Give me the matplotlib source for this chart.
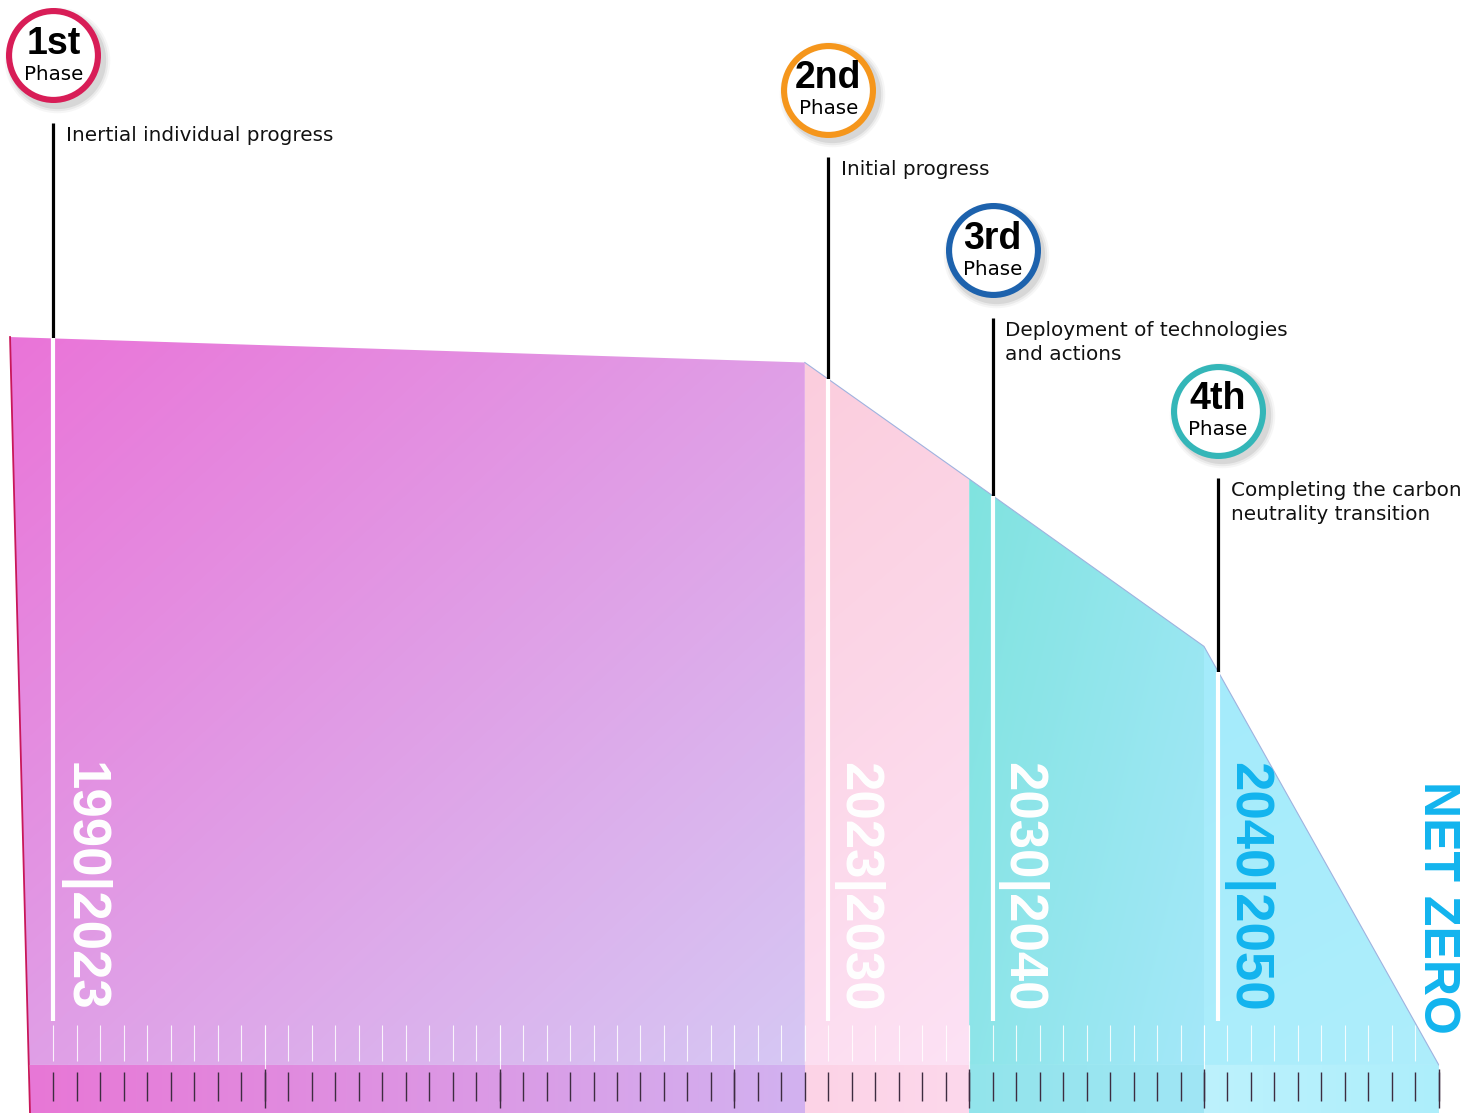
import numpy as np
import matplotlib.pyplot as plt
from matplotlib.patches import Polygon
from matplotlib.colors import to_rgb
from matplotlib.transforms import offset_copy

# emissions path (index, 1990 = 100) at the phase boundaries
years = [1990, 2023, 2030, 2040, 2050]
emissions = [100, 96.5, 80.5, 57.5, 0]

periods = ["1990|2023", "2023|2030", "2030|2040", "2040|2050"]
phase_ordinals = ["1st", "2nd", "3rd", "4th"]
phase_texts = ["Inertial individual progress",
               "Initial progress",
               "Deployment of technologies\nand actions",
               "Completing the carbon\nneutrality transition"]
phase_start = [1991, 2024, 2031, 2040.6]
end_label = "NET ZERO"

# styling / layout
seg_c0 = ["#ea74d8", "#fbcddd", "#80e3df", "#a4ebfb"]
seg_c1 = ["#d6c8f4", "#fde2f5", "#a4e8f9", "#aeeefc"]
band_c0 = ["#e877d6", "#fcd3e6", "#92e4eb", "#bdf2fd"]
band_c1 = ["#d2b2f0", "#fdd8ec", "#a0e6f5", "#adeefb"]
ring_colors = ["#d81d57", "#f5961c", "#1d62ad", "#34b6b8"]
period_colors = ["white", "white", "white", "#12b4ee"]
callout_top = [129.4, 124.7, 102.6, 80.6]
lean = 0.85
ymin, ymax = -6.6, 146.3

fig = plt.figure(figsize=(14.62, 11.13), dpi=100)
ax = fig.add_axes([0, 0, 1, 1])
ax.axis("off")


def gradient_fill(verts, c0, c1, wx, wy, z=1):
    poly = Polygon(verts, closed=True, fc="none", ec="none")
    ax.add_patch(poly)
    xs = [v[0] for v in verts]
    ys = [v[1] for v in verts]
    u = np.linspace(0, 1, 256)
    U, V = np.meshgrid(u, u)
    t = (wx * U + wy * (1 - V)) / (wx + wy)
    a = np.array(to_rgb(c0))
    b = np.array(to_rgb(c1))
    img = a[None, None, :] * (1 - t[..., None]) + b[None, None, :] * t[..., None]
    im = ax.imshow(img, extent=(min(xs), max(xs), min(ys), max(ys)),
                   origin="lower", aspect="auto", zorder=z, interpolation="bilinear")
    im.set_clip_path(poly)


# main area, one gradient segment per phase
weights = [(1, 1), (0.2, 1), (1, 0.6), (0.3, 1)]
for i in range(4):
    x0, x1 = years[i], years[i + 1]
    e0, e1 = emissions[i], emissions[i + 1]
    if i == 0:
        left_top = x0 - lean
        left_bot = x0 - lean * (0 - ymin) / (e0 - ymin)
        verts = [(left_bot, 0), (left_top, e0), (x1, e1), (x1, 0)]
    else:
        verts = [(x0, 0), (x0, e0), (x1, e1), (x1, 0)]
    gradient_fill(verts, seg_c0[i], seg_c1[i], *weights[i])
    # bottom band
    gradient_fill([(x0, ymin), (x0, 0), (x1, 0), (x1, ymin)],
                  band_c0[i], band_c1[i], 1, 0.0001, z=2)

ax.plot(years[1:], emissions[1:], color="#9fb2df", lw=0.8, zorder=2)
ax.plot([years[0] - lean, years[0]], [emissions[0], ymin], color="#c8175a", lw=1.3, zorder=4)

# year ticks
tick_years = np.arange(years[0] + 1, years[-1] + 1)
decades = tick_years[tick_years % 10 == 0]
ax.vlines(tick_years, 0.5, 5.5, color="white", lw=0.8, alpha=0.85, zorder=3)
ax.vlines(decades, -0.7, 5.5, color="white", lw=0.8, alpha=0.85, zorder=3)
ax.vlines(tick_years, -4.9, -1.0, color="#3d2c40", lw=1.0, zorder=3)
ax.vlines(decades, -5.9, -0.5, color="#3d2c40", lw=1.0, zorder=3)

# phase callouts
for i in range(4):
    x = phase_start[i]
    level = np.interp(x, years, emissions)
    top = callout_top[i]
    ax.plot([x, x], [level, top], color="black", lw=2.3, zorder=5, solid_capstyle="butt")
    ax.plot([x, x], [level, 6.0], color="white", lw=3.0, zorder=5, solid_capstyle="butt")

    ax.annotate(phase_texts[i], (x, top), xytext=(9, -2.0), textcoords="offset points",
                ha="left", va="top", fontsize=14.4, color="#111111",
                family="DejaVu Sans", linespacing=1.36, zorder=6)

    cy = top + 9.3
    for k, (grow, alpha) in enumerate([(8, 0.05), (5, 0.08), (2, 0.12)]):
        tr = offset_copy(ax.transData, fig=fig, x=2.5, y=-3.5, units="points")
        ax.plot(x, cy, "o", ms=68 + grow, color="#555555", alpha=alpha, mew=0,
                transform=tr, zorder=6)
    ax.plot(x, cy, "o", ms=64, mfc="white", mec=ring_colors[i], mew=4.4, zorder=7)
    ax.annotate(phase_ordinals[i], (x, cy), xytext=(0, 8.5), textcoords="offset points",
                ha="center", va="center", fontsize=27, fontweight="bold",
                family="Liberation Sans", color="black", zorder=8)
    ax.annotate("Phase", (x, cy), xytext=(0, -13.5), textcoords="offset points",
                ha="center", va="center", fontsize=14.3, family="DejaVu Sans",
                color="black", zorder=8)

    ax.annotate(periods[i], (x, 41.6), xytext=(21, 0), textcoords="offset points",
                rotation=-90, ha="center", va="top", fontsize=38, fontweight="bold",
                family="Liberation Sans", color=period_colors[i], zorder=6)

ax.annotate(end_label, (years[-1], 39.0), xytext=(-1, 0), textcoords="offset points",
            rotation=-90, ha="center", va="top", fontsize=36, fontweight="bold",
            family="Liberation Sans", color="#12b4ee", zorder=6)

ax.set_xlim(1990 - 30 / 23.48, 1990 + 1432 / 23.48)
ax.set_ylim(ymin, ymax)

fig.savefig("out.png", dpi=100)
